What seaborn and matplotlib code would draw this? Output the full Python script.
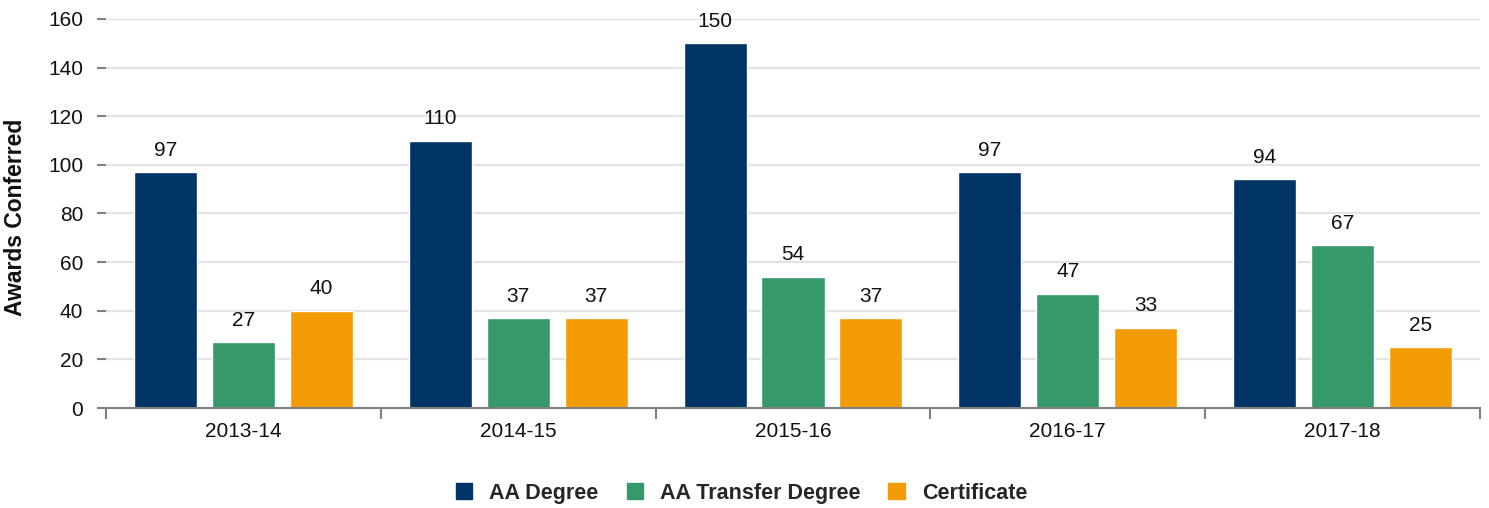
import pandas as pd
import matplotlib.pyplot as plt
import seaborn as sns
from matplotlib.patches import Patch

years = ['2013-14', '2014-15', '2015-16', '2016-17', '2017-18']
aa_degree = [97, 110, 150, 97, 94]
aa_transfer = [27, 37, 54, 47, 67]
certificate = [40, 37, 37, 33, 25]

series = ['AA Degree', 'AA Transfer Degree', 'Certificate']
colors = ['#003466', '#35996a', '#f39c05']

df = pd.DataFrame({
    'Year': years * 3,
    'Award': [s for s in series for _ in years],
    'Count': aa_degree + aa_transfer + certificate,
})

sns.set_theme(style='white')
plt.rcParams['font.family'] = ['Liberation Sans', 'DejaVu Sans']

fig = plt.figure(figsize=(14.89, 5.08), dpi=100)
ax = fig.add_axes([106 / 1489, 1 - 408 / 508, (1480 - 106) / 1489, (408 - 19) / 508])

sns.barplot(data=df, x='Year', y='Count', hue='Award', palette=colors,
            width=0.85, gap=0.19, saturation=1, ax=ax, legend=False)

for cont in ax.containers:
    ax.bar_label(cont, padding=9, fontsize=15, color='#111111')

ax.set_ylim(0, 160)
ax.set_xlim(-0.5, 4.5)
ax.set_yticks(range(0, 161, 20))
ax.yaxis.grid(True, color='#e3e3e3', linewidth=1.6)
ax.set_axisbelow(True)

for side in ['top', 'right', 'left']:
    ax.spines[side].set_visible(False)
ax.spines['bottom'].set_color('#808080')
ax.spines['bottom'].set_linewidth(1.5)

ax.set_xticks(range(len(years)))
ax.set_xticklabels(years)
ax.set_xticks([i - 0.5 for i in range(len(years) + 1)], minor=True)
ax.tick_params(axis='x', which='major', length=0, labelsize=15, pad=10, labelcolor='#111111')
ax.tick_params(axis='x', which='minor', length=8, width=1.5, color='#808080', bottom=True)
ax.tick_params(axis='y', length=6.5, width=1.5, color='#808080', left=True, labelsize=15,
               pad=10, labelcolor='#111111')

ax.set_xlabel('')
ax.set_ylabel('Awards Conferred', fontsize=16.5, fontweight='bold', color='#111111')
ax.yaxis.set_label_coords(-0.0575, 0.49)

handles = [Patch(facecolor=c, edgecolor=c) for c in colors]
fig.legend(handles, series, loc='center', bbox_to_anchor=(0.498, 0.029), ncol=3,
           frameon=False, prop={'weight': 'bold', 'size': 15.5},
           handlelength=0.75, handleheight=0.75, columnspacing=1.3, handletextpad=0.8)

fig.savefig('out.png', dpi=100)
